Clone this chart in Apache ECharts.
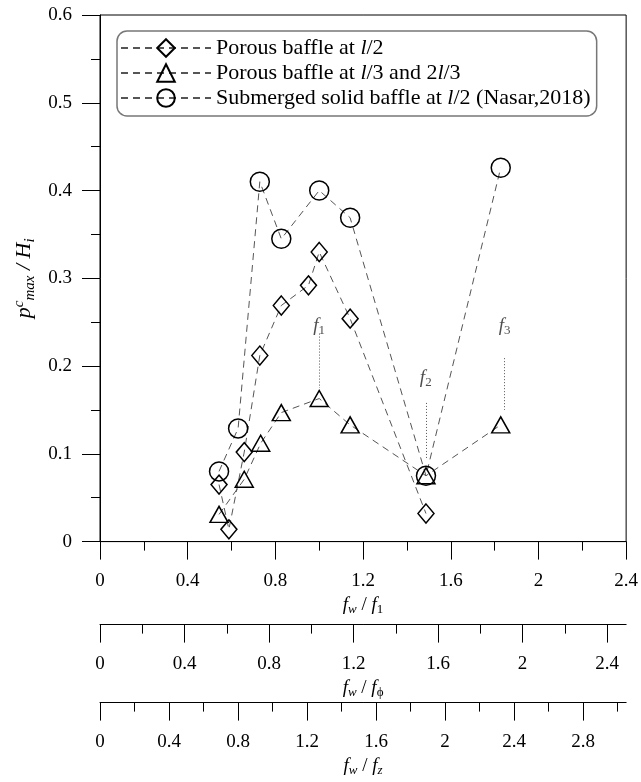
<!DOCTYPE html>
<html><head><meta charset="utf-8">
<script src="https://cdn.jsdelivr.net/npm/echarts@6/dist/echarts.min.js"></script>
<style>html,body{margin:0;padding:0;background:#fff}#c{width:641px;height:782px}</style>
</head><body><div id="c"></div>
<script>
// ---- data ----
const seriesNames = ['Porous baffle at l/2', 'Porous baffle at l/3 and 2l/3', 'Submerged solid baffle at l/2 (Nasar,2018)'];
const diamondX = [0.543, 0.588, 0.658, 0.729, 0.827, 0.951, 1.0, 1.141, 1.487];
const diamondY = [0.065, 0.014, 0.102, 0.212, 0.269, 0.292, 0.330, 0.254, 0.032];
const triangleX = [0.543, 0.658, 0.733, 0.827, 1.0, 1.141, 1.487, 1.828];
const triangleY = [0.031, 0.071, 0.112, 0.147, 0.163, 0.133, 0.075, 0.133];
const circleX = [0.543, 0.630, 0.729, 0.827, 1.0, 1.141, 1.487, 1.828];
const circleY = [0.080, 0.129, 0.410, 0.345, 0.400, 0.369, 0.075, 0.426];
// natural frequency annotations
const freqIndex = ['1', '2', '3'];
const freqX = [1.0, 1.486, 1.846];
const freqLabelY = [0.246, 0.186, 0.246];
const freqLineTop = [0.237, 0.158, 0.209];
const freqLineBottom = [0.175, 0.095, 0.150];
// secondary axes ticks
const axis2Major = [0, 0.4, 0.8, 1.2, 1.6, 2, 2.4];
const axis2Minor = [0.2, 0.6, 1.0, 1.4, 1.8, 2.2];
const axis2Max = 2.49;
const axis3Major = [0, 0.4, 0.8, 1.2, 1.6, 2, 2.4, 2.8];
const axis3Minor = [0.2, 0.6, 1.0, 1.4, 1.8, 2.2, 2.6, 3.0];
const axis3Max = 3.05;

// ---- styling ----
const FONT = "'Liberation Serif', 'Times New Roman', serif";
const zip = (xs, ys) => xs.map((x, i) => [x, ys[i]]);
const nameRich = {
  f: {fontFamily: FONT, fontStyle: 'italic', fontSize: 19, lineHeight: 22, color: '#000'},
  n: {fontFamily: FONT, fontSize: 19, lineHeight: 22, color: '#000'},
  s: {fontFamily: FONT, fontStyle: 'italic', fontSize: 13, lineHeight: 10, verticalAlign: 'bottom', color: '#000'},
  sr: {fontFamily: FONT, fontSize: 13, lineHeight: 10, verticalAlign: 'bottom', color: '#000'}
};
const labelStyle = {fontFamily: FONT, fontSize: 19, color: '#000'};

function secondaryAxes(max, major, minor, offset, name, gap) {
  return [
    {
      type: 'value', gridIndex: 0, position: 'bottom', offset: offset,
      min: 0, max: max,
      axisLine: {show: true, onZero: false, lineStyle: {color: '#000', width: 1}},
      axisTick: {show: true, customValues: major, length: 18, lineStyle: {color: '#000'}},
      axisLabel: {show: true, customValues: major, margin: 30, ...labelStyle},
      splitLine: {show: false},
      name: name, nameLocation: 'middle', nameGap: gap,
      nameTextStyle: {rich: nameRich}
    },
    {
      type: 'value', gridIndex: 0, position: 'bottom', offset: offset,
      min: 0, max: max,
      axisLine: {show: false, onZero: false},
      axisTick: {show: true, customValues: minor, length: 9, lineStyle: {color: '#000'}},
      axisLabel: {show: false},
      splitLine: {show: false}
    }
  ];
}

const lineSeries = (name, data, symbol, size) => ({
  name: name, type: 'line', xAxisIndex: 0, yAxisIndex: 0, data: data,
  symbol: symbol, symbolSize: size, showAllSymbol: true,
  color: '#000',
  lineStyle: {color: '#555', width: 1, type: [7, 5]},
  itemStyle: {color: 'transparent', borderColor: '#000', borderWidth: 1.5},
  z: 3
});

const legendRich = {i: {fontFamily: FONT, fontStyle: 'italic', fontSize: 22, color: '#000'}};
const legendText = {
  [seriesNames[0]]: 'Porous baffle at {i|l}/2',
  [seriesNames[1]]: 'Porous baffle at {i|l}/3 and 2{i|l}/3',
  [seriesNames[2]]: 'Submerged solid baffle at {i|l}/2 (Nasar,2018)'
};

const chart = echarts.init(document.getElementById('c'), null, {renderer: 'canvas'});
chart.setOption({
  animation: false,
  backgroundColor: '#fff',
  grid: {left: 100, right: 13, top: 15, bottom: 238, show: true, borderColor: '#000', borderWidth: 1, containLabel: false},
  legend: {
    data: seriesNames, orient: 'vertical', left: 117, top: 31,
    padding: [6, 6, 7, 3], itemGap: 3, itemWidth: 90, itemHeight: 22,
    borderColor: '#777', borderWidth: 1.5, borderRadius: 10, backgroundColor: '#fff',
    textStyle: {fontFamily: FONT, fontSize: 22, color: '#000', rich: legendRich},
    formatter: name => legendText[name]
  },
  xAxis: [
    {
      type: 'value', min: 0, max: 2.4, interval: 0.4, position: 'bottom',
      axisLine: {show: true, onZero: false, lineStyle: {color: '#000', width: 1}},
      axisTick: {show: true, length: 18, lineStyle: {color: '#000'}},
      minorTick: {show: true, splitNumber: 2, length: 9, lineStyle: {color: '#000'}},
      axisLabel: {margin: 30, ...labelStyle},
      splitLine: {show: false},
      name: '{f|f}{s|w}{n| / }{f|f}{sr|1}', nameLocation: 'middle', nameGap: 45,
      nameTextStyle: {rich: nameRich}
    },
    ...secondaryAxes(axis2Max, axis2Major, axis2Minor, 83, '{f|f}{s|w}{n| / }{f|f}{sr|ϕ}', 45),
    ...secondaryAxes(axis3Max, axis3Major, axis3Minor, 161, '{f|f}{s|w}{n| / }{f|f}{s|z}', 50)
  ],
  yAxis: {
    type: 'value', min: 0, max: 0.6, interval: 0.1,
    axisLine: {show: true, lineStyle: {color: '#000', width: 1}},
    axisTick: {show: true, length: 18, lineStyle: {color: '#000'}},
    minorTick: {show: true, splitNumber: 2, length: 9, lineStyle: {color: '#000'}},
    axisLabel: {margin: 28, ...labelStyle},
    splitLine: {show: false},
    name: '{p|p}{sup|c}{sub|max}{n| / H}{sub|i}', nameLocation: 'middle', nameGap: 56, nameRotate: 90,
    nameTextStyle: {rich: {
      p: {fontFamily: FONT, fontStyle: 'italic', fontSize: 22, lineHeight: 26, color: '#000'},
      n: {fontFamily: FONT, fontStyle: 'italic', fontSize: 22, lineHeight: 26, color: '#000'},
      sup: {fontFamily: FONT, fontStyle: 'italic', fontSize: 15, lineHeight: 13, verticalAlign: 'top', color: '#000'},
      sub: {fontFamily: FONT, fontStyle: 'italic', fontSize: 15, lineHeight: 11, verticalAlign: 'bottom', color: '#000'}
    }}
  },
  series: [
    lineSeries(seriesNames[0], zip(diamondX, diamondY), 'diamond', [16, 19]),
    lineSeries(seriesNames[1], zip(triangleX, triangleY), 'triangle', [18, 16]),
    lineSeries(seriesNames[2], zip(circleX, circleY), 'circle', 19),
    {
      name: 'freq', type: 'scatter', xAxisIndex: 0, yAxisIndex: 0,
      data: freqX.map((x, i) => ({value: [x, freqLabelY[i]], idx: freqIndex[i]})),
      symbol: 'circle', symbolSize: 1, itemStyle: {color: 'transparent'}, silent: true,
      label: {
        show: true, position: 'inside',
        formatter: p => '{f|f}{s|' + p.data.idx + '}',
        rich: {
          f: {fontFamily: FONT, fontStyle: 'italic', fontSize: 19, lineHeight: 22, color: '#222'},
          s: {fontFamily: FONT, fontSize: 13, lineHeight: 10, verticalAlign: 'bottom', color: '#222'}
        }
      },
      markLine: {
        silent: true, symbol: ['none', 'none'], label: {show: false},
        lineStyle: {color: '#555', width: 1, type: [1, 2]},
        data: freqX.map((x, i) => [{coord: [x, freqLineTop[i]]}, {coord: [x, freqLineBottom[i]]}])
      }
    }
  ]
});
</script>
</body></html>
